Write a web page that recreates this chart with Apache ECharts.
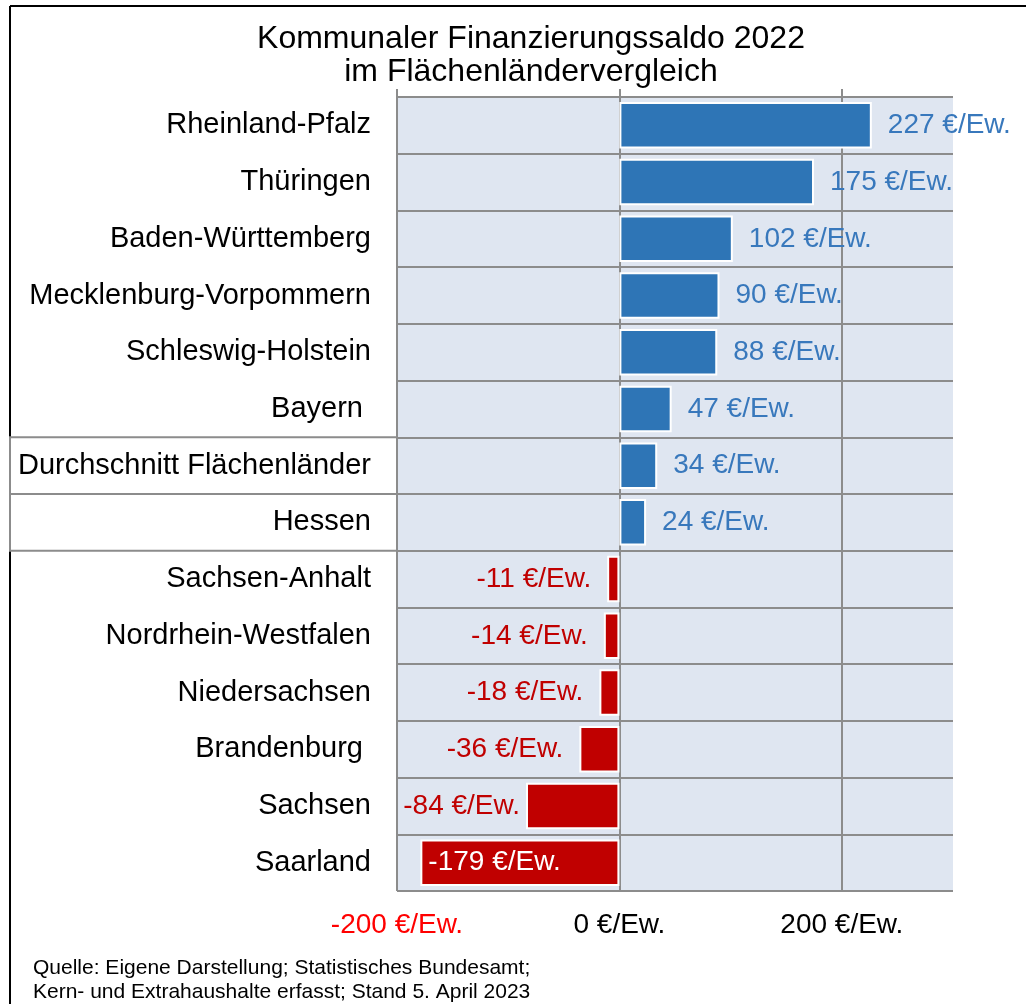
<!DOCTYPE html>
<html>
<head>
<meta charset="utf-8">
<script src="https://cdn.jsdelivr.net/npm/echarts@6/dist/echarts.min.js"></script>
<style>
html,body{margin:0;padding:0;background:#fff;}
#chart{width:1026px;height:1004px;}
</style>
</head>
<body>
<div id="chart"></div>
<script>
const titleLines = ['Kommunaler Finanzierungssaldo 2022', 'im Flächenländervergleich'];
const categories = ['Rheinland-Pfalz', 'Thüringen', 'Baden-Württemberg', 'Mecklenburg-Vorpommern',
  'Schleswig-Holstein', 'Bayern ', 'Durchschnitt Flächenländer', 'Hessen', 'Sachsen-Anhalt',
  'Nordrhein-Westfalen', 'Niedersachsen', 'Brandenburg ', 'Sachsen', 'Saarland'];
const values = [227, 175, 102, 90, 88, 47, 34, 24, -11, -14, -18, -36, -84, -179];
const xTicks = [-200, 0, 200];
const xMin = -200, xMax = 300;
const unit = ' €/Ew.';
const sourceLines = ['Quelle: Eigene Darstellung; Statistisches Bundesamt;', 'Kern- und Extrahaushalte erfasst; Stand 5. April 2023'];
const boxedCategories = ['Durchschnitt Flächenländer', 'Hessen'];

const FONT = 'Liberation Sans, Arial, sans-serif';
const BLUE = '#2E75B6', BLUE_TXT = '#3878BC', RED = '#C00000', GRID = '#8C8C8C', BG = '#DFE6F1';

const chart = echarts.init(document.getElementById('chart'), null, {renderer: 'canvas'});

const data = values.map((v, i) => {
  const item = {value: v, itemStyle: {color: v >= 0 ? BLUE : RED}};
  if (v >= 0) {
    item.label = {position: 'right', color: BLUE_TXT, distance: 16};
  } else if (v < -150) {
    item.label = {position: 'insideLeft', color: '#fff', distance: 8};
  } else if (v < -60) {
    item.label = {position: 'left', color: RED, distance: 6};
  } else {
    item.label = {position: 'left', color: RED, distance: 16};
  }
  return item;
});

chart.setOption({
  animation: false,
  grid: {left: 397, top: 97, right: 73, bottom: 113, show: false},
  xAxis: [{
    type: 'value', position: 'top', min: xMin, max: xMax, interval: 200,
    axisLine: {show: false},
    axisTick: {show: true, length: 8, customValues: xTicks, lineStyle: {color: GRID, width: 2}},
    axisLabel: {show: false},
    splitLine: {show: false}
  }, {
    type: 'value', position: 'bottom', min: xMin, max: xMax, interval: 200,
    axisLine: {show: false}, axisTick: {show: false},
    splitLine: {show: true, showMinLine: true, showMaxLine: false, lineStyle: {color: GRID, width: 2}},
    axisLabel: {
      show: true, margin: 20, fontFamily: FONT, fontSize: 28, showMaxLabel: false,
      formatter: v => (xTicks.indexOf(v) >= 0 ? v + unit : ''),
      color: v => v < 0 ? '#FF0000' : '#000'
    }
  }],
  yAxis: {
    type: 'category', data: categories, inverse: true,
    axisLine: {show: false}, axisTick: {show: false},
    axisLabel: {margin: 26, fontFamily: FONT, fontSize: 29, color: '#000'},
    splitLine: {show: true, lineStyle: {color: GRID, width: 2}}
  },
  series: [{
    type: 'bar', xAxisIndex: 0, data: data, barCategoryGap: '18%',
    itemStyle: {borderColor: '#fff', borderWidth: 2},
    label: {show: true, fontFamily: FONT, fontSize: 28, formatter: p => p.value + unit}
  }]
});

// decorations computed from the axes
const c0 = chart.convertToPixel({yAxisIndex: 0}, categories[0]);
const c1 = chart.convertToPixel({yAxisIndex: 0}, categories[1]);
const band = c1 - c0;
const xLeft = chart.convertToPixel({xAxisIndex: 0}, xMin);
const xRight = chart.convertToPixel({xAxisIndex: 0}, xMax);
const yPlotTop = chart.convertToPixel({yAxisIndex: 0}, categories[0]) - band / 2;
const yPlotBot = chart.convertToPixel({yAxisIndex: 0}, categories[categories.length - 1]) + band / 2;
const i0 = categories.indexOf(boxedCategories[0]);
const i1 = categories.indexOf(boxedCategories[1]);
const yTop = chart.convertToPixel({yAxisIndex: 0}, categories[i0]) - band / 2;
const yMid = yTop + band;
const yBot = chart.convertToPixel({yAxisIndex: 0}, categories[i1]) + band / 2;

chart.setOption({
  graphic: [
    {type: 'rect', z: -100, silent: true, shape: {x: xLeft, y: yPlotTop, width: xRight - xLeft, height: yPlotBot - yPlotTop}, style: {fill: BG}},
    {type: 'line', shape: {x1: 10, y1: 6, x2: 10, y2: 1004}, style: {stroke: '#000', lineWidth: 2}},
    {type: 'line', shape: {x1: 10, y1: 6, x2: 1026, y2: 6}, style: {stroke: '#000', lineWidth: 2}},
    {type: 'rect', shape: {x: 10, y: yTop, width: xLeft - 10, height: yBot - yTop}, style: {fill: 'none', stroke: GRID, lineWidth: 2}},
    {type: 'line', shape: {x1: 10, y1: yMid, x2: xLeft, y2: yMid}, style: {stroke: GRID, lineWidth: 2}},
    {type: 'text', x: 531, y: 23, style: {text: titleLines.join('\n'), font: '32px ' + FONT, fill: '#000', align: 'center', verticalAlign: 'top', lineHeight: 33}},
    {type: 'text', x: 33, y: 956, style: {text: sourceLines.join('\n'), font: '21px ' + FONT, fill: '#000', align: 'left', verticalAlign: 'top', lineHeight: 24}}
  ]
});
</script>
</body>
</html>
